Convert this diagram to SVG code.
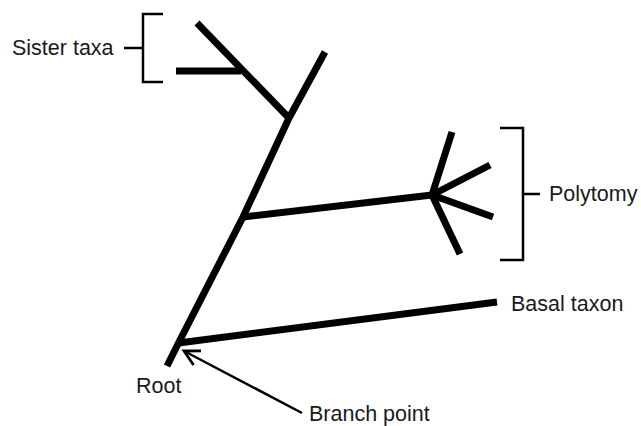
<svg xmlns="http://www.w3.org/2000/svg" width="641" height="426" viewBox="0 0 641 426">
<defs>
<style>
.br{fill:none;stroke:#000;stroke-width:7;stroke-linecap:butt;stroke-linejoin:round}
.bk{fill:none;stroke:#000;stroke-width:2.5}
.lbl{font-family:"Liberation Sans",Arial,sans-serif;font-size:21.5px;fill:#1a1a1a}
.ar{fill:none;stroke:#000;stroke-width:2.5}
</style>
<marker id="ah" viewBox="0 0 22 20" refX="19" refY="10" markerWidth="22" markerHeight="20" orient="auto" markerUnits="userSpaceOnUse">
<path d="M4,2 L19,10 L4,18" fill="none" stroke="#000" stroke-width="2.8" stroke-linejoin="miter"/>
</marker>
</defs>
<rect width="641" height="426" fill="#fff"/>
<g id="connectors">
<polyline class="br" points="167,366 178.5,343 243,217 289,118 325,52"/>
<line class="br" x1="178.5" y1="343" x2="497" y2="302"/>
<line class="br" x1="243" y1="217" x2="432" y2="195"/>
<line class="br" x1="289" y1="118" x2="197" y2="23"/>
<line class="br" x1="176" y1="71" x2="241" y2="71"/>
<line class="br" x1="432" y1="195" x2="452" y2="132"/>
<line class="br" x1="432" y1="195" x2="490" y2="165"/>
<line class="br" x1="432" y1="195" x2="493" y2="217"/>
<line class="br" x1="432" y1="195" x2="460" y2="254"/>
<line class="ar" x1="302" y1="413" x2="184" y2="351" marker-end="url(#ah)"/>
</g>
<g id="sister-bracket">
<polyline class="bk" points="163,14 143,14 143,82 163,82"/>
<line class="bk" x1="124" y1="48" x2="143" y2="48"/>
</g>
<g id="polytomy-bracket">
<polyline class="bk" points="500,128 523,128 523,260 500,260"/>
<line class="bk" x1="523" y1="194" x2="540" y2="194"/>
</g>
<g id="sister-taxa"><text class="lbl" x="12" y="55">Sister taxa</text></g>
<g id="polytomy"><text class="lbl" x="549" y="201">Polytomy</text></g>
<g id="basal-taxon"><text class="lbl" x="511" y="311">Basal taxon</text></g>
<g id="root"><text class="lbl" x="136" y="393">Root</text></g>
<g id="branch-point"><text class="lbl" x="309" y="421">Branch point</text></g>
</svg>
